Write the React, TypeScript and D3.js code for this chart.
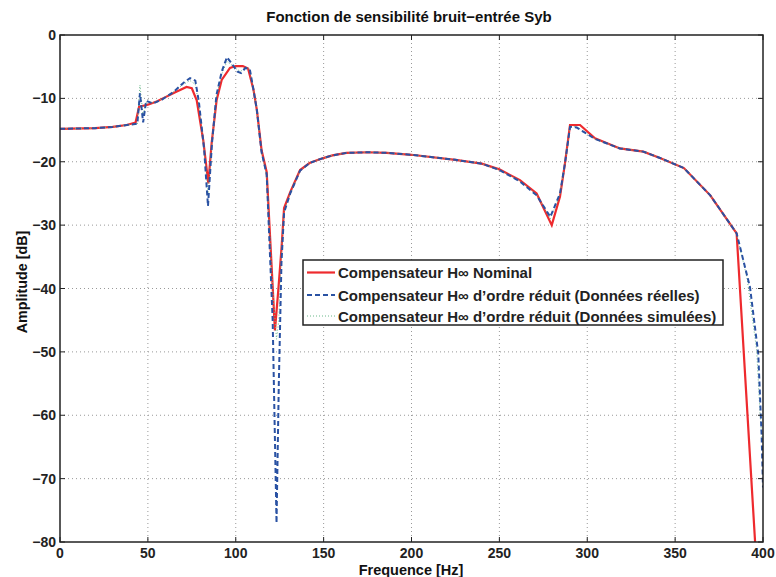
import React, { useEffect, useRef } from "react";
import * as d3 from "d3";

// [Hz, dB]
const nominal: [number, number][] = [
  [0, -14.8], [20, -14.7], [30, -14.5], [38, -14.2], [43, -13.8], [45, -11.3],
  [50, -11.0], [55, -10.5], [60, -9.8], [65, -9.1], [72, -8.2], [75, -8.4],
  [77.8, -10.3], [81.5, -16.6], [84.4, -23.4], [86.3, -17], [89.1, -10.3],
  [92, -7.1], [96.7, -5.2], [100, -4.9], [104, -4.9], [107, -5.3], [110, -8.5],
  [112, -11.8], [114.7, -18.2], [117.6, -21.6], [122.3, -46.6], [124.2, -40.3],
  [126.1, -33.4], [127.5, -27.3], [131, -24.8], [136.6, -21.3], [142, -20.2],
  [148.9, -19.5], [155, -19], [163, -18.6], [175, -18.5], [186, -18.6],
  [200, -18.9], [225, -19.7], [240, -20.3], [250, -21.2], [261.7, -22.9],
  [271.2, -25], [279.8, -30], [284.5, -25.5], [287.3, -20.3], [290.2, -14.2],
  [295.9, -14.2], [304.4, -16.3], [318.6, -17.9], [331.9, -18.4], [341.4, -19.4],
  [355, -21], [370, -25.3], [385, -31.3], [395.5, -80], [397, -87],
];

const reduitReel: [number, number][] = [
  [0, -14.8], [20, -14.7], [30, -14.5], [38, -14.2], [44, -14.0], [45.5, -9.2],
  [47.3, -13.8], [49, -10.4], [53, -10.8], [58, -10.2], [65, -8.9], [70, -7.6],
  [74, -6.8], [77, -7.2], [79, -10.5], [82, -18], [84.2, -27], [86.5, -17],
  [89, -9.5], [92, -5.8], [95, -3.5], [98, -4.6], [101, -5.8], [103, -6],
  [105.5, -5.2], [108, -5.4], [110, -8.5], [112, -11.8], [114.7, -18.5],
  [117.6, -22], [121, -45], [123.2, -77], [124.5, -55], [126, -36], [127.5, -28],
  [131, -25], [136.6, -21.4], [142, -20.2], [148.9, -19.5], [155, -19],
  [163, -18.6], [175, -18.5], [186, -18.6], [200, -18.9], [225, -19.7],
  [240, -20.3], [250, -21.3], [261.7, -23.1], [271.2, -25.3], [279, -28.7],
  [284.5, -25], [287.3, -20.3], [290.2, -14.5], [294, -14.6], [304.4, -16.4],
  [318.6, -17.9], [331.9, -18.4], [341.4, -19.4], [355, -21], [370, -25.3],
  [385, -31.3], [392.6, -39.8], [397.3, -50.3], [399.2, -63], [400, -71.4],
];

const reduitSimule: [number, number][] = [
  [0, -14.8], [20, -14.7], [30, -14.5], [38, -14.2], [44, -14.1], [45.5, -7.9],
  [47.3, -12.8], [49, -10.6], [53, -10.7], [58, -10.1], [65, -8.9], [70, -7.8],
  [74, -7.2], [77, -7.8], [79, -11], [82, -18], [84.2, -25], [86.5, -17],
  [89, -9.8], [92, -6.2], [95, -4.2], [98, -4.8], [101, -5.5], [103, -5.7],
  [105.5, -5.1], [108, -5.4], [110, -8.6], [112, -12], [114.7, -18.6],
  [117.6, -22.3], [121, -40], [123.2, -48], [124.5, -45], [126, -34], [127.5, -27.8],
  [131, -25], [136.6, -21.4], [142, -20.2], [148.9, -19.5], [155, -19],
  [163, -18.6], [175, -18.5], [186, -18.6], [200, -18.9], [225, -19.7],
  [240, -20.3], [250, -21.3], [261.7, -23], [271.2, -25.2], [279, -29],
  [284.5, -25.2], [287.3, -20.3], [290.2, -14.4], [294, -14.5], [304.4, -16.4],
  [318.6, -17.9], [331.9, -18.4], [341.4, -19.4], [355, -21], [370, -25.3],
  [385, -31.3], [391, -38.5], [396.4, -49.8], [398.3, -59.7], [399.5, -64],
];

const xTicks = [0, 50, 100, 150, 200, 250, 300, 350, 400];
const yTicks = [0, -10, -20, -30, -40, -50, -60, -70, -80];
const legendLabels = [
  "Compensateur H\u221E Nominal",
  "Compensateur H\u221E d\u2019ordre réduit (Données réelles)",
  "Compensateur H\u221E d\u2019ordre réduit (Données simulées)",
];

const App = () => {
  const ref = useRef<SVGSVGElement>(null);

  useEffect(() => {
    const W = 776, H = 577;
    const margin = { top: 35, right: 13, bottom: 35, left: 60 };
    const width = W - margin.left - margin.right;
    const height = H - margin.top - margin.bottom;
    const font = "'Liberation Sans', Arial, Helvetica, sans-serif";

    const svg = d3.select(ref.current);
    svg.selectAll("*").remove();

    const x = d3.scaleLinear().domain([0, 400]).range([0, width]);
    const y = d3.scaleLinear().domain([-80, 0]).range([height, 0]);

    const g = svg.append("g").attr("transform", `translate(${margin.left},${margin.top})`);

    // grid
    g.selectAll(".gx")
      .data(xTicks.slice(1, -1))
      .enter()
      .append("line")
      .attr("x1", (d) => x(d)).attr("x2", (d) => x(d))
      .attr("y1", 0).attr("y2", height)
      .attr("stroke", "#999").attr("stroke-width", 1)
      .attr("stroke-dasharray", "1,3");
    g.selectAll(".gy")
      .data(yTicks.slice(1, -1))
      .enter()
      .append("line")
      .attr("y1", (d) => y(d)).attr("y2", (d) => y(d))
      .attr("x1", 0).attr("x2", width)
      .attr("stroke", "#999").attr("stroke-width", 1)
      .attr("stroke-dasharray", "1,3");

    // clip
    svg.append("defs").append("clipPath").attr("id", "clip")
      .append("rect").attr("width", width).attr("height", height);

    const line = d3.line<[number, number]>()
      .x((d) => x(d[0]))
      .y((d) => y(d[1]));

    const curves = g.append("g").attr("clip-path", "url(#clip)");
    curves.append("path").datum(nominal)
      .attr("d", line).attr("fill", "none")
      .attr("stroke", "#ee2a2e").attr("stroke-width", 2.2);
    curves.append("path").datum(reduitSimule)
      .attr("d", line).attr("fill", "none")
      .attr("stroke", "#6bb88a").attr("stroke-width", 1)
      .attr("stroke-dasharray", "1,2");
    curves.append("path").datum(reduitReel)
      .attr("d", line).attr("fill", "none")
      .attr("stroke", "#2a52a3").attr("stroke-width", 2)
      .attr("stroke-dasharray", "5,3");

    // box
    g.append("rect").attr("width", width).attr("height", height)
      .attr("fill", "none").attr("stroke", "#222").attr("stroke-width", 1.5);

    // ticks inside on all sides
    const tl = 5;
    xTicks.forEach((t) => {
      g.append("line").attr("x1", x(t)).attr("x2", x(t)).attr("y1", height).attr("y2", height - tl).attr("stroke", "#222");
      g.append("line").attr("x1", x(t)).attr("x2", x(t)).attr("y1", 0).attr("y2", tl).attr("stroke", "#222");
      g.append("text").attr("x", x(t)).attr("y", height + 16)
        .attr("text-anchor", "middle").attr("font-family", font)
        .attr("font-weight", "bold").attr("font-size", 14).attr("fill", "#222")
        .text(t);
    });
    yTicks.forEach((t) => {
      g.append("line").attr("y1", y(t)).attr("y2", y(t)).attr("x1", 0).attr("x2", tl).attr("stroke", "#222");
      g.append("line").attr("y1", y(t)).attr("y2", y(t)).attr("x1", width).attr("x2", width - tl).attr("stroke", "#222");
      g.append("text").attr("x", -4).attr("y", y(t) + 5)
        .attr("text-anchor", "end").attr("font-family", font)
        .attr("font-weight", "bold").attr("font-size", 14).attr("fill", "#222")
        .text(t === 0 ? "0" : "\u2212" + Math.abs(t));
    });

    // labels
    svg.append("text").attr("x", 409).attr("y", 22)
      .attr("text-anchor", "middle").attr("font-family", font)
      .attr("font-weight", "bold").attr("font-size", 15).attr("fill", "#111")
      .text("Fonction de sensibilité bruit\u2212entrée Syb");
    svg.append("text").attr("x", 411).attr("y", 575)
      .attr("text-anchor", "middle").attr("font-family", font)
      .attr("font-weight", "bold").attr("font-size", 14.5).attr("fill", "#111")
      .text("Frequence [Hz]");
    svg.append("text")
      .attr("transform", `translate(27,282) rotate(-90)`)
      .attr("text-anchor", "middle").attr("font-family", font)
      .attr("font-weight", "bold").attr("font-size", 14.3).attr("fill", "#111")
      .text("Amplitude [dB]");

    // legend
    const leg = svg.append("g").attr("transform", "translate(303,260)");
    leg.append("rect").attr("width", 420).attr("height", 65)
      .attr("fill", "#fff").attr("stroke", "#222").attr("stroke-width", 1.5);
    const styles = [
      { c: "#ee2a2e", w: 2.2, dash: null },
      { c: "#2a52a3", w: 2, dash: "5,3" },
      { c: "#6bb88a", w: 1, dash: "1,2" },
    ];
    const rowsY = [12.5, 35, 56];
    legendLabels.forEach((lab, i) => {
      const s = styles[i];
      const ln = leg.append("line").attr("x1", 4).attr("x2", 32)
        .attr("y1", rowsY[i]).attr("y2", rowsY[i])
        .attr("stroke", s.c).attr("stroke-width", s.w);
      if (s.dash) ln.attr("stroke-dasharray", s.dash);
      leg.append("text").attr("x", 35).attr("y", rowsY[i] + 5.5)
        .attr("font-family", font).attr("font-weight", "bold")
        .attr("font-size", 15).attr("fill", "#222").text(lab);
    });
  }, []);

  return (
    <svg
      ref={ref}
      width={776}
      height={577}
      style={{ position: "absolute", left: 0, top: 0, background: "#fff" }}
    />
  );
};

export default App;
